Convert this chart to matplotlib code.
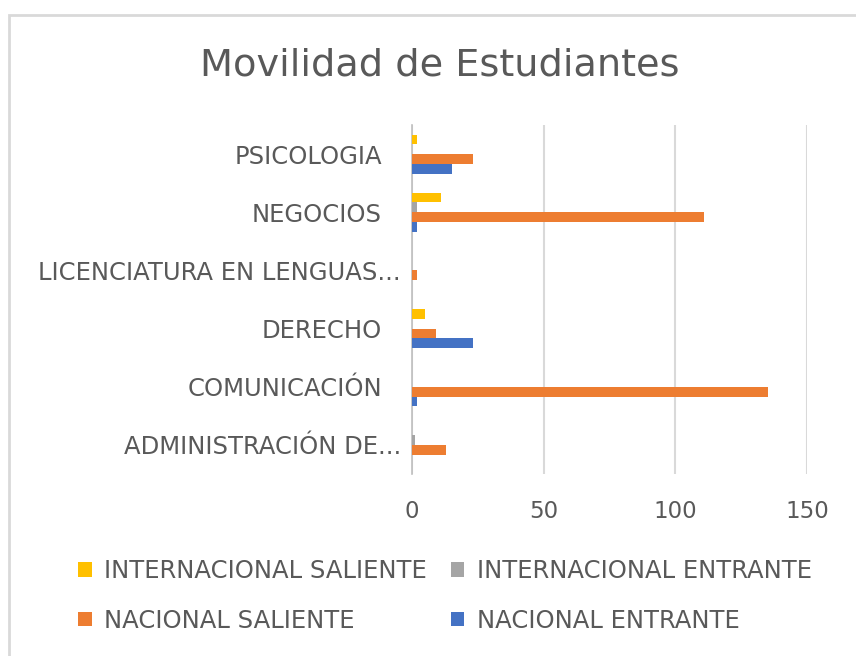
import matplotlib
matplotlib.use("Agg")
from matplotlib import pyplot as plt
from matplotlib.patches import Rectangle
from matplotlib.transforms import ScaledTranslation
import numpy as np

# data (bottom category first)
carreras = ["ADMINISTRACIÓN DE...", "COMUNICACIÓN", "DERECHO",
            "LICENCIATURA EN LENGUAS...", "NEGOCIOS", "PSICOLOGIA"]
nacionalEntrante = [0, 2, 23, 0, 2, 15]
nacionalSaliente = [13, 135, 9, 2, 111, 23]
internacionalEntrante = [1, 0, 0, 0, 2, 0]
internacionalSaliente = [0, 0, 5, 0, 11, 2]
xTicks = [0, 50, 100, 150]

textGrey = "#595959"
font = "DejaVu Sans"

fig = plt.figure(figsize=(8.56, 6.56), dpi=100)
ax = fig.add_axes([412/856, 1-474/656, 395/856, 349/656])

y = np.arange(len(carreras))
h = 0.168
ax.barh(y - 1.5*h, nacionalEntrante, h, color="#4472C4", label="NACIONAL ENTRANTE", zorder=3)
ax.barh(y - 0.5*h, nacionalSaliente, h, color="#ED7D31", label="NACIONAL SALIENTE", zorder=3)
ax.barh(y + 0.5*h, internacionalEntrante, h, color="#A5A5A5", label="INTERNACIONAL ENTRANTE", zorder=3)
ax.barh(y + 1.5*h, internacionalSaliente, h, color="#FFC000", label="INTERNACIONAL SALIENTE", zorder=3)

ax.set_xlim(0, 150)
ax.set_ylim(-0.5, len(carreras) - 0.5)
ax.set_xticks(xTicks)
ax.set_xticklabels([str(t) for t in xTicks], fontsize=16.5, color=textGrey, family=font)
ax.set_yticks(y)
ax.set_yticklabels(carreras, fontsize=17.5, color=textGrey, family=font)
ax.tick_params(axis="x", length=0, pad=19)
ax.tick_params(axis="y", length=0, pad=8)
for lbl in ax.get_yticklabels():
    if not lbl.get_text().endswith("..."):
        lbl.set_transform(lbl.get_transform() + ScaledTranslation(-19/100, 0, fig.dpi_scale_trans))

ax.grid(axis="x", color="#d9d9d9", linewidth=1.5, zorder=0)
for s in ["top", "right", "bottom"]:
    ax.spines[s].set_visible(False)
ax.spines["left"].set_color("#bfbfbf")
ax.spines["left"].set_linewidth(1.2)

fig.text(440/856, 1-65/656, "Movilidad de Estudiantes", ha="center", va="center",
         fontsize=27.5, color=textGrey, family=font)

handles, labels = ax.get_legend_handles_labels()
order = [3, 1, 2, 0]
fig.legend([handles[i] for i in order], [labels[i] for i in order], ncol=2,
           loc="center", bbox_to_anchor=(445/856, 1-596/656), frameon=False,
           prop={"family": font, "size": 17.5}, labelcolor=textGrey,
           handlelength=0.55, handleheight=0.55, handletextpad=0.5,
           columnspacing=1.0, labelspacing=1.05)

fig.patches.append(Rectangle((9/856, -0.1), 1.2, 1.1 - 15/656, transform=fig.transFigure,
                             fill=False, edgecolor="#d9d9d9", linewidth=2))

fig.savefig("out.png", dpi=100)
